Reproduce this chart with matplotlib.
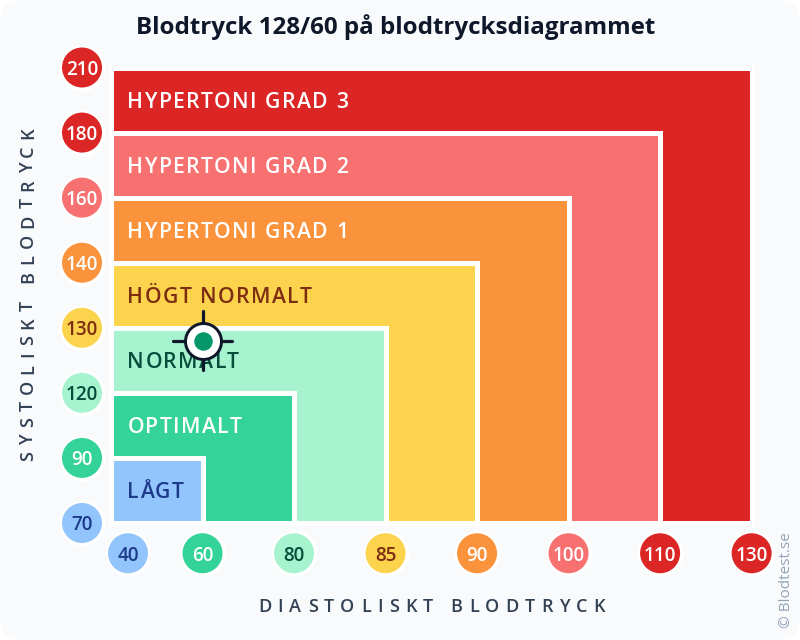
import matplotlib
matplotlib.use("Agg")
import matplotlib.pyplot as plt
import numpy as np
from matplotlib.font_manager import FontProperties
from matplotlib.patches import FancyBboxPatch
from matplotlib.textpath import text_to_path

FAMILY = ['Open Sans', 'DejaVu Sans']
plt.rcParams['font.family'] = FAMILY

# diastoliskt / systoliskt, same order as the zones
dia_ticks = [40, 60, 80, 85, 90, 100, 110, 130]
sys_ticks = [70, 90, 120, 130, 140, 160, 180, 210]
tick_colors = ["#93c5fd", "#34d399", "#a7f3d0", "#fcd34d", "#fb923c", "#f87171", "#dc2626", "#dc2626"]
tick_text = ["#1e3a8a", "white", "#064e3b", "#7c2d12", "white", "white", "white", "white"]

zones = ["LÅGT", "OPTIMALT", "NORMALT", "HÖGT NORMALT", "HYPERTONI GRAD 1", "HYPERTONI GRAD 2", "HYPERTONI GRAD 3"]
zone_colors = ["#93c5fd", "#34d399", "#a7f3d0", "#fcd34d", "#fb923c", "#f87171", "#dc2626"]
zone_text = ["#1e3a8a", "white", "#064e3b", "#7c2d12", "white", "white", "white"]

sys_val = 128
dia_val = 60

W, H = 800, 640
PT = 0.72  # one pixel in points at dpi 100


def text_w(s, size, weight):
    fp = FontProperties(family=FAMILY, size=size, weight=weight)
    return text_to_path.get_text_width_height_descent(s, fp, False)[0]


# matplotlib has no letter spacing, so each letter is placed on its own
def spaced(target, s, x, y, size, weight, color, gap, vertical=False, coords="data", zorder=3):
    for i, ch in enumerate(s):
        if ch == " ":
            continue
        adv = text_w(s[:i + 1], size, weight) - text_w(ch, size, weight) + i * gap * PT
        off = (0, adv) if vertical else (adv, 0)
        target.annotate(ch, (x, y), xycoords=coords, xytext=off, textcoords="offset points",
                        fontsize=size, fontweight=weight, color=color, ha="left", va="baseline",
                        rotation=90 if vertical else 0, rotation_mode="anchor",
                        annotation_clip=False, zorder=zorder)


fig = plt.figure(figsize=(W / 100, H / 100), dpi=100, facecolor="white")

bg = fig.add_axes([0, 0, 1, 1])
bg.set_xlim(0, W)
bg.set_ylim(H, 0)
bg.axis("off")
bg.add_patch(FancyBboxPatch((0, 0), W, H, boxstyle="round,pad=0,rounding_size=24", fc="#f8fafc", ec="none"))

# axes edges in pixels, tick index 0..7 sits on them
left, right, top, bottom = 111, 751.6, 67.5, 523
ax = fig.add_axes([left / W, 1 - bottom / H, (right - left) / W, (bottom - top) / H])
ax.set_xlim(0, 7)
ax.set_ylim(0, 7)
ax.axis("off")
ax.patch.set_alpha(0)

# biggest zone first so the small ones land on top
for i in range(len(zones) - 1, -1, -1):
    ax.bar(0, i + 1, width=i + 1, align="edge", color=zone_colors[i], edgecolor="white", linewidth=3.6, clip_on=False, zorder=2)

for i in range(len(zones)):
    # baseline 7.5 px below the band centre, a bit lower than the first try
    ax_y = i + 0.5 - 8 / 65.07
    spaced(ax, zones[i], 0.178, ax_y, 15.2, "semibold", zone_text[i], 1.45)

# tick badges
xpos = np.arange(len(dia_ticks), dtype=float)
xpos[0] = 0.186
ypos = np.arange(len(sys_ticks), dtype=float)
dia_y = -0.465
sys_x = -0.317
ax.scatter(xpos, [dia_y] * len(xpos), s=(46 * PT) ** 2, c="white", clip_on=False, zorder=4, linewidths=0)
ax.scatter(xpos, [dia_y] * len(xpos), s=(40 * PT) ** 2, c=tick_colors, clip_on=False, zorder=5, linewidths=0)
ax.scatter([sys_x] * len(ypos), ypos, s=(46 * PT) ** 2, c="white", clip_on=False, zorder=4, linewidths=0)
ax.scatter([sys_x] * len(ypos), ypos, s=(40 * PT) ** 2, c=tick_colors, clip_on=False, zorder=5, linewidths=0)
for i in range(len(dia_ticks)):
    ax.text(xpos[i], dia_y, str(dia_ticks[i]), color=tick_text[i], fontsize=13.6, fontweight="semibold", ha="center", va="center_baseline", zorder=6)
for i in range(len(sys_ticks)):
    ax.text(sys_x, ypos[i], str(sys_ticks[i]), color=tick_text[i], fontsize=13.6, fontweight="semibold", ha="center", va="center_baseline", zorder=6)

# marker for the reading, scale is piecewise along the ticks
mx = np.interp(dia_val, dia_ticks[1:], np.arange(1, 8))
my = np.interp(sys_val, sys_ticks, np.arange(8))
dx = 29.5 / 91.5
dy = 29.5 / 65.07
ax.plot([mx - dx, mx + dx], [my, my], color="#0f172a", lw=2.3, solid_capstyle="round", zorder=7)
ax.plot([mx, mx], [my - dy, my + dy], color="#0f172a", lw=2.3, solid_capstyle="round", zorder=7)
ax.scatter([mx], [my], s=(39 * PT) ** 2, c="#0f172a", linewidths=0, zorder=8)
ax.scatter([mx], [my], s=(33 * PT) ** 2, c="white", linewidths=0, zorder=9)
ax.scatter([mx], [my], s=(18.5 * PT) ** 2, c="#059669", linewidths=0, zorder=10)

fig.text(396 / W, 1 - 27 / H, "Blodtryck 128/60 på blodtrycksdiagrammet", color="#0f172a", fontsize=17.4, fontweight="bold", ha="center", va="center")

# axis titles run wide, gap picked so they fill the same length
label_size = 13
dia_label = "DIASTOLISKT BLODTRYCK"
sys_label = "SYSTOLISKT BLODTRYCK"
dia_gap = (347 - text_w(dia_label, label_size, "semibold") / PT) / (len(dia_label) - 1)
sys_gap = (334 - text_w(sys_label, label_size, "semibold") / PT) / (len(sys_label) - 1)
spaced(bg, dia_label, 258, 612, label_size, "semibold", "#334155", dia_gap)
spaced(bg, sys_label, 33, 461, label_size, "semibold", "#334155", sys_gap, vertical=True)

fig.text(787 / W, 1 - 580 / H, "© Blodtest.se", color="#94a3b8", fontsize=11, rotation=90, ha="center", va="center")

fig.savefig("out.png", dpi=100)
